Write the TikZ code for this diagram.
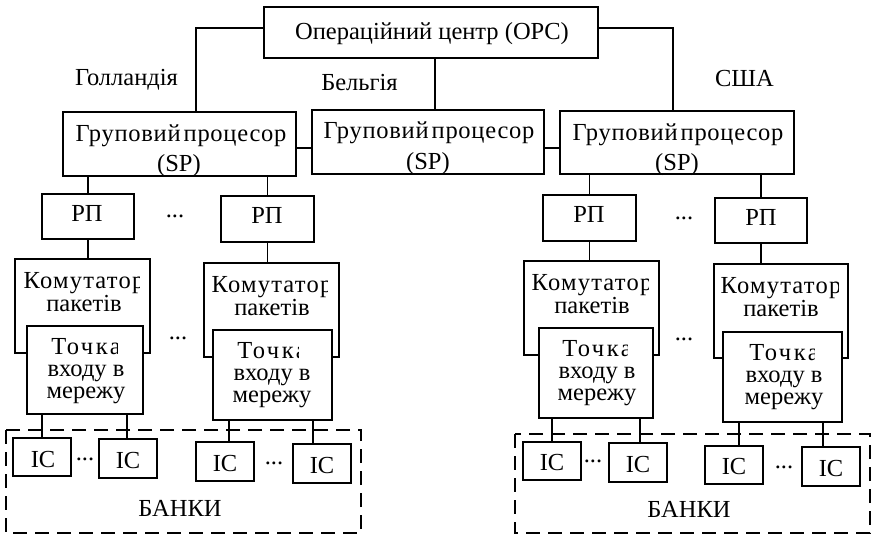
\documentclass[tikz,border=0pt]{standalone}
\usepackage{fontspec}
\setmainfont{Liberation Serif}
\newfontfamily\spfont[LetterSpace=3]{Liberation Serif}
\newfontfamily\kmfont[LetterSpace=5]{Liberation Serif}
\newfontfamily\tpfont[LetterSpace=10]{Liberation Serif}
\usetikzlibrary{calc}

% box given by its corners: name, x1, y1, x2, y2
\newcommand{\mkbox}[5]{%
  \node[box, minimum width={(#4-#2)*1pt}, minimum height={(#5-#3)*1pt}]
    (#1) at ({(#2+#4)/2},{(#3+#5)/2}) {};}
% one line of text placed by its baseline: name, x, y, text
\newcommand{\lbltext}[4]{\node[lbl] (#1) at (#2,#3) {#4};}
% a text block whose first line (baseline at x, y) is cut off on the
% right at a given x: name, x, y, clip x, line pitch, lines below first, text
\newcommand{\clipblock}[7]{%
  \begin{scope}
    \clip (#2-90,#3-40) -- (#4,#3-40) -- (#4,#3+3) -- (#2+90,#3+3)
          -- (#2+90,#3+90) -- (#2-90,#3+90) -- cycle;
    \node[blk, font=\fontsize{24.5}{#5}\selectfont]
      (#1) at (#2,{#3+#5*#6}) {#7};
  \end{scope}}
\newcommand{\gp}{{\spfont Груповий}\hspace{3pt}{\spfont процесор}}

\begin{document}
\begin{tikzpicture}[x=1pt,y=-1pt,
  box/.style={draw, line width=1.6pt, inner sep=0pt, fill=white},
  wire/.style={line width=1.3pt},
  bank/.style={draw, line width=2.6pt, dash pattern=on 14pt off 8pt},
  lbl/.style={inner sep=0pt, anchor=base, text height=16.5pt, text depth=4pt,
              font=\fontsize{24.5}{27}\selectfont},
  blk/.style={inner sep=0pt, anchor=base, align=center},
]
\useasboundingbox (0,0) rectangle (876,535);

% ---------- banks (dashed groups) ----------
\draw[bank] (6,430) rectangle (361,533);
\draw[bank] (515,434) rectangle (870,533);
\lbltext{banka}{180}{516}{БАНКИ}
\lbltext{bankb}{689}{517}{БАНКИ}

% ---------- operations centre ----------
\mkbox{opc}{264}{7}{598}{58}
\lbltext{opct}{432}{40}{Операційний центр (OPC)}

% ---------- group processors ----------
\mkbox{spa}{63}{112}{296}{176}
\mkbox{spb}{312}{110}{544}{174}
\mkbox{spc}{560}{111}{794}{174}
\lbltext{spa1}{181}{141}{\gp}
\lbltext{spa2}{179}{171}{(SP)}
\lbltext{spb1}{429}{139}{\gp}
\lbltext{spb2}{428}{169}{(SP)}
\lbltext{spc1}{678}{140}{\gp}
\lbltext{spc2}{677}{170}{(SP)}

% country labels
\lbltext{nl}{126.5}{85}{Голландія}
\lbltext{be}{359.5}{91}{Бельгія}
\lbltext{us}{744.5}{86}{США}

% ---------- RP boxes ----------
\mkbox{rpa}{42}{194}{134}{239}
\mkbox{rpb}{221}{196}{314}{242}
\mkbox{rpc}{543}{195}{636}{241}
\mkbox{rpd}{715}{198}{807}{243}
\lbltext{rpat}{87}{221}{РП}
\lbltext{rpbt}{267}{223}{РП}
\lbltext{rpct}{589}{222}{РП}
\lbltext{rpdt}{761}{225}{РП}

% ---------- packet switches ----------
\mkbox{kma}{15}{259}{150}{353}
\mkbox{kmb}{204}{263}{339}{357}
\mkbox{kmc}{524}{261}{659}{355}
\mkbox{kmd}{714}{264}{848}{358}
\clipblock{kmat}{84}{288}{139}{23}{1}{{\kmfont Комутатор}\\пакетів}
\clipblock{kmbt}{272}{292}{327}{23}{1}{{\kmfont Комутатор}\\пакетів}
\clipblock{kmct}{592}{290}{648}{23}{1}{{\kmfont Комутатор}\\пакетів}
\clipblock{kmdt}{781}{293}{838}{23}{1}{{\kmfont Комутатор}\\пакетів}

% ---------- network access points ----------
\mkbox{tpa}{27}{326}{143}{414}
\mkbox{tpb}{213}{330}{332}{420}
\mkbox{tpc}{539}{328}{653}{418}
\mkbox{tpd}{723}{332}{842}{422}
\clipblock{tpat}{86}{354}{117}{22}{2}{{\tpfont Точка}\\входу в\\мережу}
\clipblock{tpbt}{272}{358}{298}{22}{2}{{\tpfont Точка}\\входу в\\мережу}
\clipblock{tpct}{597}{356}{627}{22}{2}{{\tpfont Точка}\\входу в\\мережу}
\clipblock{tpdt}{784}{360}{814}{22}{2}{{\tpfont Точка}\\входу в\\мережу}

% ---------- IC terminals ----------
\mkbox{ica}{13}{438}{71}{476}
\mkbox{icb}{99}{439}{157}{478}
\mkbox{icc}{196}{442}{254}{481}
\mkbox{icd}{293}{444}{351}{483}
\mkbox{ice}{523}{442}{581}{480}
\mkbox{icf}{609}{443}{667}{482}
\mkbox{icg}{705}{446}{763}{484}
\mkbox{ich}{802}{447}{860}{486}
\lbltext{icat}{43}{467}{IC}
\lbltext{icbt}{128}{468}{IC}
\lbltext{icct}{225}{471}{IC}
\lbltext{icdt}{322}{473}{IC}
\lbltext{icet}{552}{470}{IC}
\lbltext{icft}{638}{472}{IC}
\lbltext{icgt}{734}{474}{IC}
\lbltext{icht}{831}{476}{IC}

% ---------- ellipses between repeated units ----------
\lbltext{da}{175}{217}{...}
\lbltext{db}{178}{339}{...}
\lbltext{dc}{684}{219}{...}
\lbltext{dd}{684}{340}{...}
\lbltext{de}{85}{460}{...}
\lbltext{df}{274}{464}{...}
\lbltext{dg}{593}{462}{...}
\lbltext{dh}{784}{468}{...}

% ---------- connectors ----------
\coordinate (ja) at (196,0);
\coordinate (jb) at (435,0);
\coordinate (jc) at (673,0);
\coordinate (hl) at (0,148);
\draw[wire] ($(opc.west)+(0,-4.5)$) -| (spa.north -| ja);
\draw[wire] ($(opc.east)+(0,-4.5)$) -| (spc.north -| jc);
\draw[wire] (opc.south -| jb) -- (spb.north -| jb);
\draw[wire] (spa.east |- hl) -- (spb.west |- hl);
\draw[wire] (spb.east |- hl) -- (spc.west |- hl);

\foreach \r/\s/\k in {rpa/spa/kma, rpb/spa/kmb, rpc/spc/kmc, rpd/spc/kmd}{
  \draw[wire] (\r.north) -- (\r.north |- \s.south);
  \draw[wire] (\r.south) -- (\r.south |- \k.north);
}

\foreach \t/\i/\x in {tpa/ica/42, tpa/icb/127, tpb/icc/229, tpb/icd/313,
                      tpc/ice/552, tpc/icf/640, tpd/icg/739, tpd/ich/823}{
  \coordinate (cx) at (\x,0);
  \draw[wire] (\t.south -| cx) -- (\i.north -| cx);
}
\end{tikzpicture}
\end{document}
